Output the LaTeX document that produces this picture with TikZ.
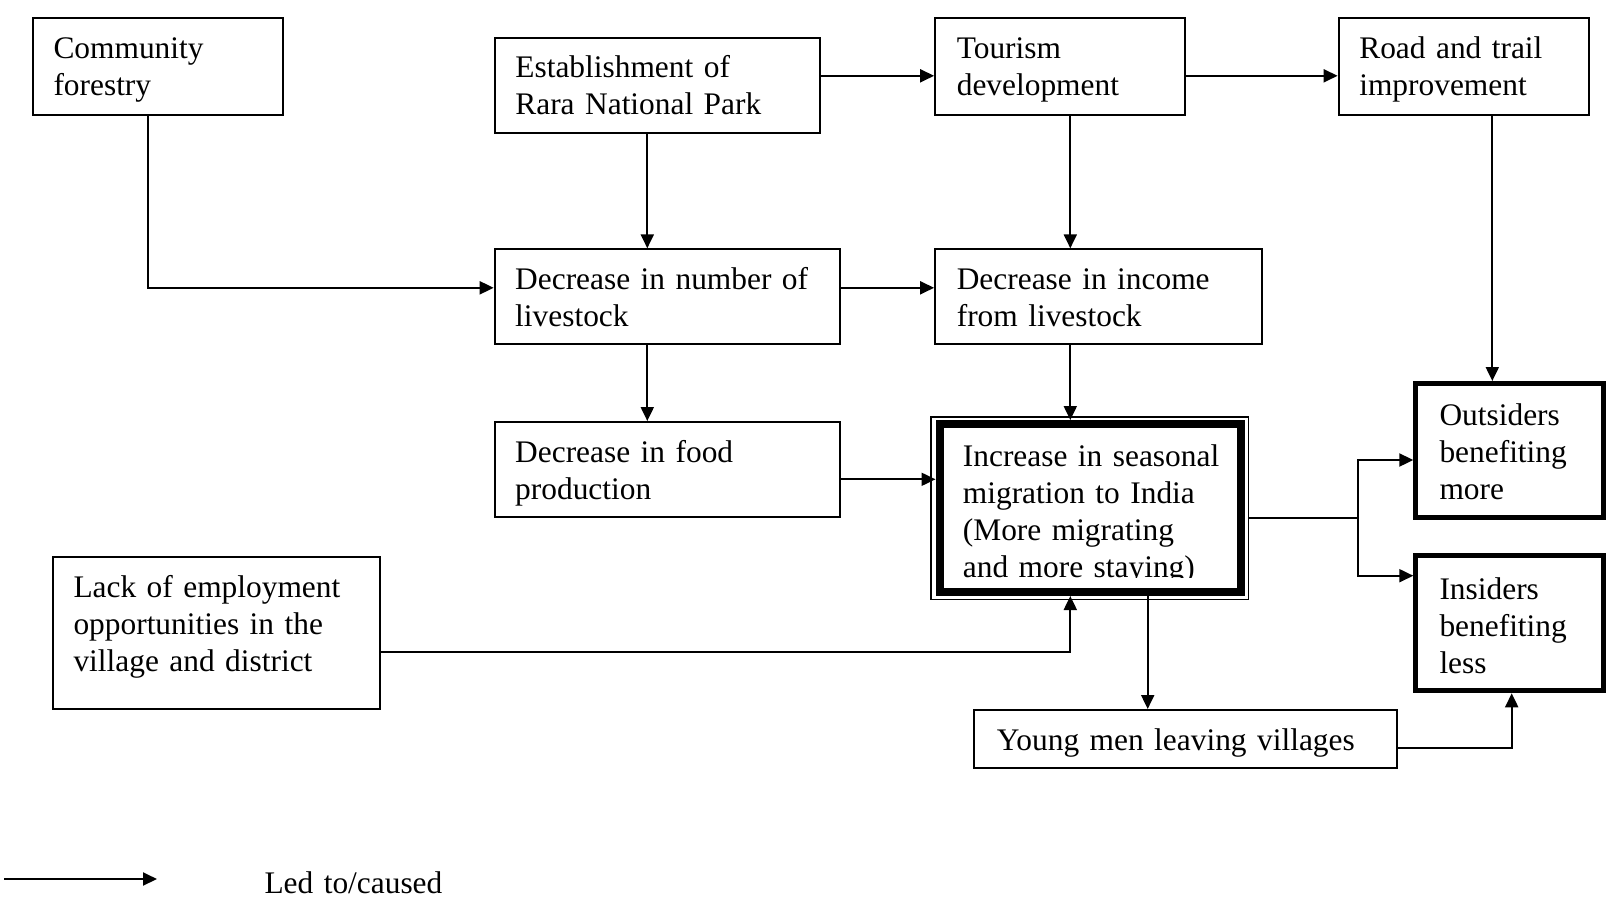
\documentclass[tikz,border=0pt]{standalone}
\usepackage{fontspec}
\setmainfont{Liberation Serif}
\newfontfamily\boxfamily{Liberation Serif}[WordSpace=0.8]
\usetikzlibrary{arrows.meta}
\newcommand\boxtextfont{\boxfamily\fontsize{31.4}{37}\selectfont}
\begin{document}
\begin{tikzpicture}[x=1pt,y=-1pt,
  box/.style={draw, line width=2pt, inner sep=0pt},
  heavybox/.style={draw, line width=5pt, inner sep=0pt},
  label/.style={anchor=base west, inner sep=0pt, align=left, text width=420pt,
    font=\boxtextfont},
  arr/.style={line width=2pt, -{Triangle[length=14pt,width=13pt]}},
  ln/.style={line width=2pt}]
\useasboundingbox (0,0) rectangle (1606,906);

% frames
\node[box, minimum width=250, minimum height=96.7] (cf) at (158.3,66.65) {};
\node[box, minimum width=325.7, minimum height=95.2] (rnp) at (657.55,85.5) {};
\node[box, minimum width=249.9, minimum height=96.7] (tour) at (1060.05,66.65) {};
\node[box, minimum width=249.9, minimum height=96.7] (road) at (1463.55,66.65) {};
\node[box, minimum width=345.3, minimum height=95] (liv) at (667.35,296.8) {};
\node[box, minimum width=326.9, minimum height=95] (inc) at (1098.55,296.8) {};
\node[box, minimum width=345.3, minimum height=95.2] (food) at (667.35,469.6) {};
\node[box, minimum width=327.3, minimum height=152.6] (lack) at (216.35,633) {};
\node[box, minimum width=422.7, minimum height=57.7] (young) at (1185.35,738.85) {};
\node[heavybox, minimum width=188, minimum height=134] (out) at (1509.8,450.5) {};
\node[heavybox, minimum width=188, minimum height=135] (ins) at (1509.8,623.3) {};
\node[draw, line width=1.8pt, inner sep=0pt, minimum width=317.5, minimum height=182.5] (migo) at (1089.75,508.25) {};
\node[draw, line width=8pt, inner sep=0pt, minimum width=301.5, minimum height=168] (mig) at (1090.25,508) {};

% texts
\node[label] (tcf) at (53.3,58.3) {Community\\forestry};
\node[label] (trnp) at (515.2,77.9) {Establishment of\\Rara National Park};
\node[label] (ttour) at (956.6,58.4) {Tourism\\development};
\node[label] (troad) at (1359.1,58.4) {Road and trail\\improvement};
\node[label] (tliv) at (515,289) {Decrease in number of\\livestock};
\node[label] (tinc) at (956.6,289) {Decrease in income\\from livestock};
\node[label] (tfood) at (515,462) {Decrease in food\\production};
\node[label] (tlack) at (73.3,597.8) {Lack of employment\\opportunities in the\\village and district};
\node[label] (tyoung) at (996.7,750) {Young men leaving villages};
\node[label] (tout) at (1439.3,425.3) {Outsiders\\benefiting\\more};
\node[label] (tins) at (1439.3,599.2) {Insiders\\benefiting\\less};
\begin{scope}
  \clip (940,425) rectangle (1240,577.5);
  \node[label] (tmig) at (962.7,466.7) {Increase in seasonal\\migration to India\\(More migrating\\and more staying)};
\end{scope}

% connectors
\draw[arr] ([xshift=-10]cf.south) |- ([yshift=9]liv.west);
\draw[arr] ([xshift=-10.25]rnp.south) -- ([xshift=-10.25]rnp.south |- liv.north);
\draw[arr] ([yshift=9.7]rnp.east) -- ([yshift=9.7]rnp.east -| tour.west);
\draw[arr] ([yshift=-9.15]tour.east) -- ([yshift=-9.15]tour.east -| road.west);
\draw[arr] ([xshift=10.25]tour.south) -- ([xshift=10.25]tour.south |- inc.north);
\draw[arr] ([yshift=9]liv.east) -- ([yshift=9]liv.east -| inc.west);
\draw[arr] ([xshift=-20.05]liv.south) -- ([xshift=-20.05]liv.south |- food.north);
\draw[arr] ([yshift=-9.7]food.east) -- ([yshift=-9.7]food.east -| mig.west);
\draw[arr] ([xshift=-28.25]inc.south) -- ([xshift=-28.25]inc.south |- mig.north);
\draw[arr] ([xshift=28.75]road.south) -- ([xshift=28.75]road.south |- out.north);
\coordinate (jn) at (1358.3,518);
\draw[ln] (migo.east |- jn) -- (jn);
\draw[arr] (jn) |- ([yshift=-9.5]out.west);
\draw[arr] (jn) |- ([yshift=47.6]ins.west);
\draw[arr] ([yshift=-19.4]lack.east) -| ([xshift=-19.95]mig.south);
\draw[arr] ([xshift=57.45]mig.south) -- ([xshift=57.45]mig.south |- young.north);
\draw[arr] ([yshift=-8.85]young.east) -| ([xshift=1.9]ins.south);

% legend
\coordinate (lg1) at (4,879);
\coordinate (lg2) at (157,879);
\draw[arr] (lg1) -- (lg2);
\node[label] (tlg) at (264.3,893.3) {Led to/caused};
\end{tikzpicture}
\end{document}
